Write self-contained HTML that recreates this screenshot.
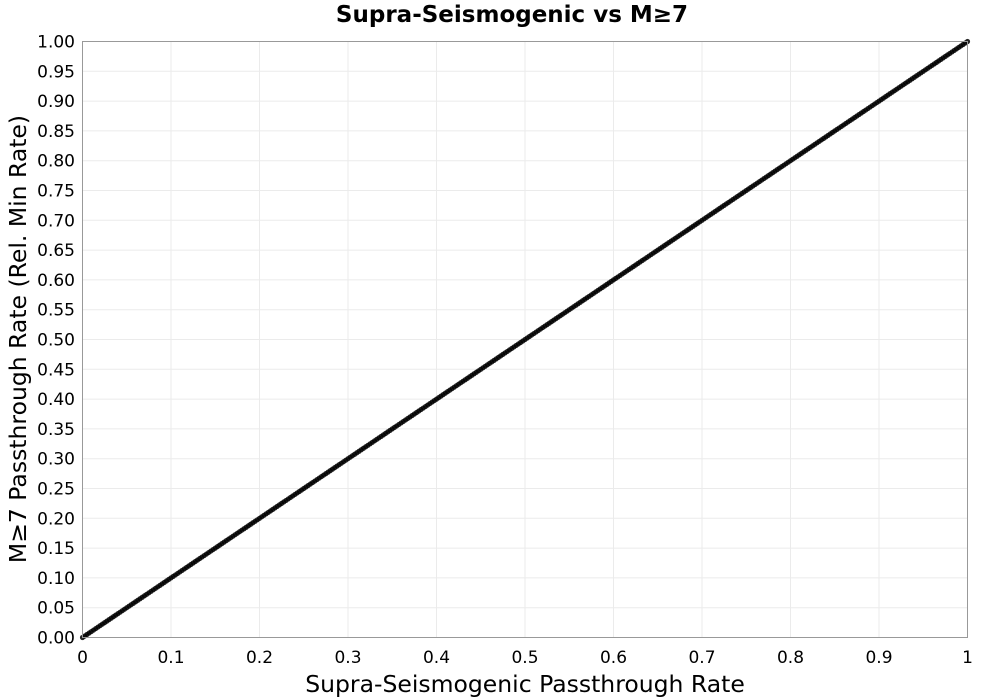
<!DOCTYPE html>
<html><head><meta charset="utf-8"><style>
body{margin:0;background:#fff;}
svg{display:block;font-family:"DejaVu Sans","Liberation Sans",sans-serif;}
</style></head><body>
<svg id="chart" width="1000" height="700">
<text x="512" y="22" text-anchor="middle" font-size="23" font-weight="bold">Supra-Seismogenic vs M≥7</text>
<g id="grid"></g>
<g id="pts"></g>
<rect x="82.5" y="41.5" width="885" height="596" fill="none" stroke="#999"/>
<g id="xt"></g>
<g id="yt"></g>
<text x="525" y="692" text-anchor="middle" font-size="23.5">Supra-Seismogenic Passthrough Rate</text>
<text transform="translate(26,339) rotate(-90)" text-anchor="middle" font-size="23.5">M≥7 Passthrough Rate (Rel. Min Rate)</text>
</svg>
<script>
const xTicks=["0","0.1","0.2","0.3","0.4","0.5","0.6","0.7","0.8","0.9","1"];
const yTicks=["0.00","0.05","0.10","0.15","0.20","0.25","0.30","0.35","0.40","0.45","0.50","0.55","0.60","0.65","0.70","0.75","0.80","0.85","0.90","0.95","1.00"];
const xs=[0,0.005,0.01,0.015,0.02,0.025,0.03,0.035,0.04,0.045,0.05,0.055,0.06,0.065,0.07,0.075,0.08,0.085,0.09,0.095,0.1,0.105,0.11,0.115,0.12,0.125,0.13,0.135,0.14,0.145,0.15,0.155,0.16,0.165,0.17,0.175,0.18,0.185,0.19,0.195,0.2,0.205,0.21,0.215,0.22,0.225,0.23,0.235,0.24,0.245,0.25,0.255,0.26,0.265,0.27,0.275,0.28,0.285,0.29,0.295,0.3,0.305,0.31,0.315,0.32,0.325,0.33,0.335,0.34,0.345,0.35,0.355,0.36,0.365,0.37,0.375,0.38,0.385,0.39,0.395,0.4,0.405,0.41,0.415,0.42,0.425,0.43,0.435,0.44,0.445,0.45,0.455,0.46,0.465,0.47,0.475,0.48,0.485,0.49,0.495,0.5,0.505,0.51,0.515,0.52,0.525,0.53,0.535,0.54,0.545,0.55,0.555,0.56,0.565,0.57,0.575,0.58,0.585,0.59,0.595,0.6,0.605,0.61,0.615,0.62,0.625,0.63,0.635,0.64,0.645,0.65,0.655,0.66,0.665,0.67,0.675,0.68,0.685,0.69,0.695,0.7,0.705,0.71,0.715,0.72,0.725,0.73,0.735,0.74,0.745,0.75,0.755,0.76,0.765,0.77,0.775,0.78,0.785,0.79,0.795,0.8,0.805,0.81,0.815,0.82,0.825,0.83,0.835,0.84,0.845,0.85,0.855,0.86,0.865,0.87,0.875,0.88,0.885,0.89,0.895,0.9,0.905,0.91,0.915,0.92,0.925,0.93,0.935,0.94,0.945,0.95,0.955,0.96,0.965,0.97,0.975,0.98,0.985,0.99,0.995,1];
const ys=xs.slice();
const xsB=[0.0025,0.0075,0.0125,0.0175,0.0225,0.0275,0.0325,0.0375,0.0425,0.0475,0.0525,0.0575,0.0625,0.0675,0.0725,0.0775,0.0825,0.0875,0.0925,0.0975,0.1025,0.1075,0.1125,0.1175,0.1225,0.1275,0.1325,0.1375,0.1425,0.1475,0.1525,0.1575,0.1625,0.1675,0.1725,0.1775,0.1825,0.1875,0.1925,0.1975,0.2025,0.2075,0.2125,0.2175,0.2225,0.2275,0.2325,0.2375,0.2425,0.2475,0.2525,0.2575,0.2625,0.2675,0.2725,0.2775,0.2825,0.2875,0.2925,0.2975,0.3025,0.3075,0.3125,0.3175,0.3225,0.3275,0.3325,0.3375,0.3425,0.3475,0.3525,0.3575,0.3625,0.3675,0.3725,0.3775,0.3825,0.3875,0.3925,0.3975,0.4025,0.4075,0.4125,0.4175,0.4225,0.4275,0.4325,0.4375,0.4425,0.4475,0.4525,0.4575,0.4625,0.4675,0.4725,0.4775,0.4825,0.4875,0.4925,0.4975,0.5025,0.5075,0.5125,0.5175,0.5225,0.5275,0.5325,0.5375,0.5425,0.5475,0.5525,0.5575,0.5625,0.5675,0.5725,0.5775,0.5825,0.5875,0.5925,0.5975,0.6025,0.6075,0.6125,0.6175,0.6225,0.6275,0.6325,0.6375,0.6425,0.6475,0.6525,0.6575,0.6625,0.6675,0.6725,0.6775,0.6825,0.6875,0.6925,0.6975,0.7025,0.7075,0.7125,0.7175,0.7225,0.7275,0.7325,0.7375,0.7425,0.7475,0.7525,0.7575,0.7625,0.7675,0.7725,0.7775,0.7825,0.7875,0.7925,0.7975,0.8025,0.8075,0.8125,0.8175,0.8225,0.8275,0.8325,0.8375,0.8425,0.8475,0.8525,0.8575,0.8625,0.8675,0.8725,0.8775,0.8825,0.8875,0.8925,0.8975,0.9025,0.9075,0.9125,0.9175,0.9225,0.9275,0.9325,0.9375,0.9425,0.9475,0.9525,0.9575,0.9625,0.9675,0.9725,0.9775,0.9825,0.9875,0.9925,0.9975];
const ysB=xsB.slice();
const NS="http://www.w3.org/2000/svg";
const L=82.5,R=967.5,T=41.5,B=637.5;
const sx=v=>L+(R-L)*v, sy=v=>B-(B-T)*v;
const grid=document.getElementById('grid'),xt=document.getElementById('xt'),yt=document.getElementById('yt'),pts=document.getElementById('pts');
function mk(tag,attrs,parent){const e=document.createElementNS(NS,tag);for(const k in attrs)e.setAttribute(k,attrs[k]);parent.appendChild(e);return e;}
xTicks.forEach(t=>{const x=sx(parseFloat(t));
 const g=mk('line',{x1:x,x2:x,y1:T,y2:B,stroke:'#ebebeb'},grid);
 
 
 const tx=mk('text',{x:x,y:663,'text-anchor':'middle','font-size':17},xt);tx.textContent=t;
 
 
});
yTicks.forEach(t=>{const y=sy(parseFloat(t));
 const g=mk('line',{x1:L,x2:R,y1:y,y2:y,stroke:'#ebebeb'},grid);
 
 
 const tx=mk('text',{x:75,y:y+6,'text-anchor':'end','font-size':17},yt);tx.textContent=t;
 
 
});
function drawPts(X,Y){X.forEach((v,i)=>{
 const c=mk('circle',{cx:sx(v),cy:sy(Y[i]),r:2.6,fill:'#000','fill-opacity':0.85},pts);
 
 
});}
drawPts(xs,ys);
drawPts(xsB,ysB);
</script>
</body></html>
